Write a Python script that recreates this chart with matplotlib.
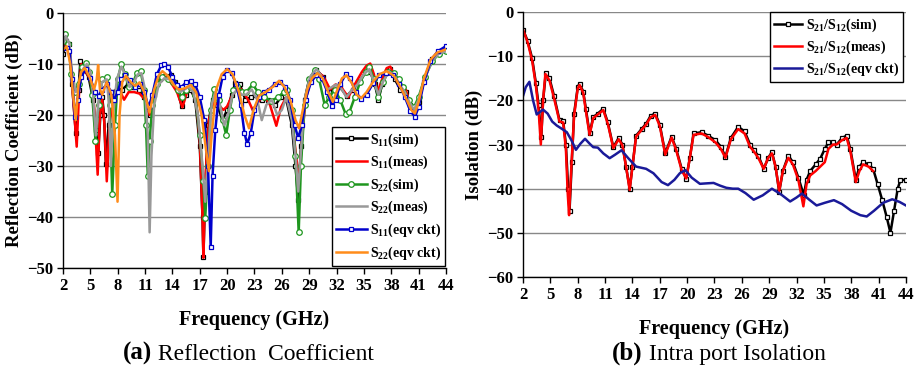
import matplotlib
matplotlib.use('Agg')
import matplotlib.pyplot as plt

plt.rcParams['font.family'] = 'Liberation Serif'
plt.rcParams['font.weight'] = 'bold'
plt.rcParams['mathtext.fontset'] = 'custom'
plt.rcParams['mathtext.bf'] = 'Liberation Serif:bold'
plt.rcParams['mathtext.rm'] = 'Liberation Serif:bold'
plt.rcParams['mathtext.default'] = 'bf'

# ---- (a) reflection coefficient data (GHz, dB) ----
s11_sim_f = [2.0, 2.3, 2.7, 3.0, 3.4, 3.7, 3.9, 4.3, 4.8, 5.3, 5.6, 5.85, 6.1, 6.3, 6.5, 6.7, 7.0, 7.4, 7.9, 8.5,
             9.1, 9.7, 10.3, 10.9, 11.5, 12.0, 12.6, 13.2, 13.8, 14.3, 15.0, 15.5, 16.0, 16.5, 17.0, 17.3, 17.4, 17.6,
             17.9, 18.4, 18.9, 19.5, 20.0, 20.5, 20.9, 21.4, 22.0, 22.6, 23.1, 23.8, 24.5, 25.3, 25.9, 26.5, 27.1,
             27.5, 27.8, 28.1, 28.5, 29.0, 29.8, 30.5, 31.2, 31.8, 32.4, 33.1, 33.8, 34.5, 35.2, 35.7, 36.2, 36.6,
             37.0, 37.5, 37.9, 38.4, 39.0, 39.6, 40.1, 40.5, 41.0, 41.7, 42.5, 43.2, 44.0]
s11_sim = [-8, -5.5, -6, -14, -23.5, -15, -9.5, -11, -12.5, -17, -23, -27.5, -20, -16.5, -20, -29.7, -22, -15.5, -15, -15,
           -14, -14.5, -15, -16.5, -20, -16, -13, -12.3, -12.2, -13.5, -18.2, -16, -15, -17, -26, -40, -47.9, -35,
           -22, -17, -18, -21, -19, -16, -13.7, -14, -17, -16.5, -16, -17, -17, -18, -16.5, -17, -22,
           -30, -36.6, -26, -17, -13, -11.1, -12.5, -15.5, -14.5, -14.5, -16.3, -15, -13.5, -11.5, -11.5, -14, -17,
           -14, -11.3, -11, -13, -15, -15.5, -18, -19.5, -17.5, -12.5, -9, -7.8, -7.3]

s11_meas_f = [2.0, 2.3, 2.7, 3.0, 3.5, 3.8, 4.0, 4.5, 5.0, 5.4, 5.8, 6.05, 6.3, 6.55, 6.8, 7.1, 7.5, 7.9, 8.3, 8.7,
              9.2, 9.8, 10.4, 11.0, 11.5, 12.1, 12.7, 13.3, 13.9, 14.5, 15.1, 15.6, 16.1, 16.6, 17.0, 17.3, 17.4,
              17.6, 18.0, 18.5, 19.0, 19.6, 20.0, 20.6, 21.3, 21.8, 22.3, 22.8, 23.4, 24.0, 24.7, 25.4, 25.9, 26.5,
              27.1, 27.5, 27.9, 28.2, 28.6, 29.2, 29.9, 30.6, 31.3, 31.9, 32.5, 33.3, 34.0, 34.8, 35.3, 35.7, 36.1,
              36.5, 37.0, 37.5, 37.9, 38.4, 39.0, 39.6, 40.1, 40.5, 41.0, 41.7, 42.5, 43.2, 44.0]
s11_meas = [-7, -5.5, -6.5, -14, -26.2, -14, -10, -11.5, -13, -18, -31.7, -20, -17, -22, -33, -22, -16.5, -16, -15.5, -17,
            -15.5, -15.5, -15.8, -17, -20, -15.5, -12.8, -12.5, -13.8, -15.5, -18.5, -15.5, -14.5, -17, -25, -40, -48,
            -33, -21, -17.5, -18, -19, -18.3, -16, -14.5, -15.5, -17, -19, -17.5, -16, -18, -22.1, -18.5, -16.5,
            -20, -27, -33, -25, -17, -13, -11.5, -12.5, -15, -14, -14.5, -16.5, -14, -11.5, -10.3, -9.9, -12,
            -15.5, -13, -10.8, -10.5, -12.5, -14.5, -15, -18, -19.5, -17.5, -12.5, -8.8, -7.5, -7]

s22_sim_f = [2.0, 2.25, 2.6, 2.9, 3.3, 3.7, 4.1, 4.5, 4.9, 5.2, 5.56, 5.9, 6.3, 6.85, 7.1, 7.4, 7.7, 8.0, 8.4, 8.8,
             9.2, 9.7, 10.1, 10.5, 10.9, 11.1, 11.3, 11.5, 11.8, 12.3, 12.9, 13.5, 14.1, 14.6, 15.0, 15.5, 16.0, 16.5,
             17.0, 17.4, 17.6, 17.9, 18.2, 18.6, 19.1, 19.5, 19.9, 20.3, 20.7, 21.1, 21.6, 22.1, 22.8, 23.4, 24.1,
             24.8, 25.6, 26.2, 26.6, 27.1, 27.5, 27.85, 28.1, 28.5, 29.0, 29.6, 30.1, 30.7, 31.2, 31.8, 32.4, 33.0,
             33.4, 34.0, 34.6, 35.2, 35.6, 36.1, 36.6, 37.1, 37.7, 38.3, 38.8, 39.3, 39.9, 40.5, 41.0, 41.7, 42.5,
             43.2, 44.0]
s22_sim = [-5.5, -4.2, -6, -12, -15.5, -14, -10.5, -9.8, -11.5, -16, -25, -18, -13, -12.5, -18, -35.5, -22, -13, -9.9, -12,
           -14.5, -13.5, -11.8, -11.3, -15, -22, -31.9, -25, -18, -14, -12.5, -13, -13.5, -15, -16.5, -15, -14.5, -16,
           -24, -33, -40.2, -30, -19, -14.9, -17, -21, -23.9, -19, -15, -14.3, -15.5, -15.5, -14, -15.5, -16.5,
           -17.2, -16.5, -15.5, -15, -19, -28, -43, -30, -18, -13, -11.2, -13, -18, -16.5, -15, -17, -19.8,
           -19.5, -16.5, -13.5, -11.5, -10.5, -13, -16.5, -13.5, -11.5, -11.8, -13, -14.5, -17, -18.5, -16.5, -12.5, -9.5,
           -8, -7.5]

s22_meas_f = [2.0, 2.3, 2.7, 3.0, 3.4, 3.8, 4.2, 4.6, 5.0, 5.3, 5.6, 5.9, 6.3, 6.8, 7.0, 7.25, 7.5, 7.9, 8.4, 8.8,
              9.3, 9.8, 10.2, 10.6, 11.0, 11.3, 11.5, 11.7, 12.0, 12.5, 13.1, 13.7, 14.3, 14.8, 15.3, 15.8, 16.3,
              16.8, 17.3, 17.6, 17.9, 18.3, 18.7, 19.2, 19.7, 20.1, 20.6, 21.1, 21.6, 22.1, 22.7, 23.3, 23.8, 24.3,
              24.9, 25.5, 26.0, 26.5, 27.1, 27.5, 27.8, 28.1, 28.5, 29.1, 29.8, 30.4, 31.0, 31.5, 32.0, 32.6, 33.1,
              33.7, 34.3, 35.0, 35.6, 36.1, 36.6, 37.1, 37.7, 38.3, 38.9, 39.5, 40.0, 40.5, 41.0, 41.7, 42.5, 43.2, 44.0]
s22_meas = [-6, -4.5, -6, -12, -15.5, -14, -11, -10, -11.5, -16, -24, -17, -13.5, -13, -17, -30, -20, -13, -10.5, -12,
            -14.5, -13.5, -12, -11.8, -15, -24, -43, -28, -18, -14, -12.8, -13, -14, -15.5, -15, -14.5, -15.5,
            -20, -30, -37, -28, -18, -15.5, -18, -22, -20, -16, -15, -16, -16, -15, -17, -21, -18,
            -17, -20, -19, -16.5, -21, -28, -35, -27, -17, -12.5, -11, -12.5, -15, -14.5, -14, -15, -16.5,
            -15, -14, -12, -11, -13.5, -16, -13.5, -11.5, -12, -14, -15.5, -17.5, -19, -17, -12.8, -9.3, -8, -7.5]

s11_eqv_f = [2.0, 2.4, 2.7, 3.0, 3.3, 3.6, 4.0, 4.5, 5.0, 5.5, 5.9, 6.3, 6.8, 7.3, 7.6, 8.0, 8.4, 8.8, 9.3, 9.9,
             10.4, 10.9, 11.4, 11.8, 12.3, 12.8, 13.1, 13.5, 14.0, 14.5, 15.0, 15.5, 16.0, 16.5, 17.0, 17.5, 17.9,
             18.2, 18.4, 18.7, 19.1, 19.5, 20.0, 20.5, 21.0, 21.5, 21.9, 22.2, 22.6, 23.0, 23.5, 24.0, 24.6, 25.2,
             25.8, 26.4, 26.9, 27.4, 27.8, 28.2, 28.6, 29.2, 29.8, 30.4, 31.0, 31.5, 31.9, 32.4, 33.0, 33.5, 34.1,
             34.7, 35.3, 36.0, 36.7, 37.4, 38.2, 38.9, 39.5, 40.1, 40.6, 41.0, 41.6, 42.3, 43.1, 44.0]
s11_eqv = [-6.8, -6.8, -7.5, -13, -20.4, -17, -12.5, -11, -12.8, -15.5, -16.3, -15, -14, -15.5, -17, -15.5, -13, -12.2, -13.2, -14.5,
           -14, -15.5, -18.5, -16, -12, -10.2, -9.9, -10.5, -12.5, -14.2, -14.5, -13.6, -13.3, -14, -16.5, -21, -30,
           -45.8, -32, -23, -16, -12.5, -11.1, -11.8, -14, -18, -23.5, -25.7, -23.5, -19, -16.5, -15.5, -15, -14,
           -13.6, -14.5, -17, -22, -24.5, -22, -17, -13.5, -12.2, -12.8, -15.5, -18.2, -17, -14, -12, -12.8, -15.5,
           -16.8, -16, -13.8, -12.2, -11.8, -12.2, -14, -16.5, -19.2, -20.3, -18.5, -13.5, -9.5, -7.5, -6.5]

s22_eqv_f = [2.0, 2.4, 2.8, 3.1, 3.4, 3.7, 4.0, 4.4, 4.9, 5.4, 5.7, 5.85, 6.05, 6.3, 6.8, 7.3, 7.7, 7.98, 8.2, 8.5,
             8.9, 9.4, 9.9, 10.4, 10.9, 11.5, 12.0, 12.5, 12.9, 13.5, 14.1, 14.7, 15.3, 16.0, 16.6, 17.2, 17.7, 18.0,
             18.3, 18.8, 19.4, 20.0, 20.6, 21.3, 21.9, 22.4, 22.9, 23.5, 24.2, 25.0, 25.7, 26.3, 27.0, 27.5, 27.9,
             28.3, 28.8, 29.3, 29.9, 30.5, 31.1, 31.6, 32.1, 32.6, 33.1, 33.7, 34.2, 34.7, 35.3, 36.0, 36.7, 37.5,
             38.3, 39.0, 39.7, 40.2, 40.6, 41.0, 41.6, 42.3, 43.0, 44.0]
s22_eqv = [-7.2, -6.5, -10, -16, -21, -14, -11.5, -10.8, -12.5, -15, -13, -10.2, -15, -16, -13.5, -16, -24, -37, -20, -13.5,
           -12.3, -13.5, -14.3, -13.6, -15.5, -19.5, -15, -12.2, -11.4, -12.3, -14, -15, -14.8, -14.1, -15.5, -20, -27, -31,
           -24, -15, -12, -11, -12, -15.5, -20, -22.6, -19, -16.2, -15.5, -14.5, -13.3, -14.5, -17.5, -21, -22.6,
           -19, -15, -12.8, -11.8, -12.8, -15.5, -17.4, -15, -12.8, -12.2, -13.8, -16, -16.7, -15.5, -13.5, -12, -11.4,
           -12.3, -14.5, -17, -19, -19.7, -17.5, -12.8, -9.2, -7.8, -7.1]

# ---- (b) intra port isolation data (GHz, dB) ----
s21_sim_f = [2.0, 2.5, 3.0, 3.4, 3.7, 4.0, 4.2, 4.5, 4.9, 5.4, 6.0, 6.4, 6.7, 6.95, 7.1, 7.35, 7.6, 8.0, 8.2, 8.6,
             8.9, 9.3, 9.7, 10.2, 10.8, 11.3, 11.9, 12.5, 12.9, 13.3, 13.7, 14.0, 14.4, 15.0, 15.5, 16.0, 16.5, 17.0,
             17.6, 18.3, 18.8, 19.4, 19.9, 20.3, 20.7, 21.6, 22.3, 23.1, 23.7, 24.2, 24.8, 25.6, 26.3, 26.9, 27.3,
             27.8, 28.4, 28.9, 29.3, 29.7, 30.1, 30.5, 31.1, 31.6, 32.2, 32.8, 33.1, 33.5, 34.1, 34.6, 35.1, 35.5,
             36.0, 36.4, 37.0, 37.5, 37.9, 38.5, 38.9, 39.3, 39.9, 40.4, 40.9, 41.4, 41.9, 42.3, 42.7, 43.1, 43.4, 44.0]
s21_sim = [-4, -6.5, -10.5, -16, -21, -28.3, -20, -13.8, -15, -19, -24.5, -24.6, -30, -40, -45, -34, -23, -17, -16.2, -18,
           -22, -27.5, -23.8, -23, -21.9, -25, -30.6, -28.5, -30, -35, -40, -35, -28, -26.5, -25.3, -23.5, -23, -25.5,
           -32, -28.2, -31, -35.5, -37.7, -33, -27.5, -27.2, -28, -29, -30.5, -32.8, -28.5, -26, -27, -30, -31.3,
           -32.5, -35.5, -33, -31.7, -35, -40.7, -36, -32.5, -34, -37.5, -41.5, -38, -36, -34.5, -33.2, -31, -29.5,
           -29.5, -30, -28.5, -28, -31, -38, -35, -34, -34.5, -35.5, -39, -42.6, -46.5, -50, -45, -40, -38, -38]

s21_meas_f = [2.0, 2.5, 3.0, 3.4, 3.7, 3.95, 4.2, 4.45, 4.9, 5.4, 6.0, 6.4, 6.7, 6.9, 7.05, 7.3, 7.6, 8.0, 8.2, 8.6,
              8.9, 9.3, 9.7, 10.2, 10.8, 11.3, 11.9, 12.5, 12.9, 13.3, 13.7, 14.0, 14.4, 15.0, 15.5, 16.0, 16.5, 17.0,
              17.6, 18.3, 18.8, 19.4, 19.9, 20.3, 20.7, 21.6, 22.3, 23.1, 23.7, 24.2, 24.8, 25.6, 26.3, 26.9, 27.3,
              27.8, 28.4, 28.9, 29.3, 29.7, 30.1, 30.5, 31.1, 31.6, 32.2, 32.75, 33.1, 33.5, 34.1, 34.6, 35.1, 35.5,
              36.0, 36.4, 37.0, 37.5, 37.9, 38.5, 38.9, 39.3, 39.9, 40.4]
s21_meas = [-4, -6.8, -11, -16.5, -22, -30, -20, -14, -15.5, -19.5, -24.8, -25, -31, -41, -46, -35, -23.5, -17.3, -16.5, -18.3,
            -22.5, -27.8, -24, -23.2, -22.2, -25.3, -30.8, -28.8, -30.2, -35, -40.3, -35, -28.2, -26.7, -25.5, -23.8, -23.3, -25.8,
            -32.3, -28.4, -31.3, -35.8, -37.7, -33, -27.8, -27.5, -28.3, -29.5, -31, -33, -28.8, -26.5, -27.5, -30.5, -31.5,
            -33, -35.5, -33, -32, -35, -40.5, -36, -33, -34.5, -38, -44, -39, -37, -36, -35, -34, -31,
            -30, -30, -29, -28.5, -31.5, -38.5, -36, -34.5, -35, -36]

s21_eqv_f = [2.0, 2.3, 2.7, 3.1, 3.5, 3.8, 4.2, 4.7, 5.2, 5.7, 6.3, 6.8, 7.3, 7.8, 8.3, 8.8, 9.3, 9.7, 10.2, 10.8,
             11.5, 12.1, 12.8, 13.5, 14.4, 15.5, 16.3, 17.2, 17.9, 18.6, 19.2, 19.8, 20.5, 21.4, 22.1, 22.9, 23.6,
             24.3, 25.0, 25.6, 26.4, 27.3, 28.3, 29.3, 30.3, 31.3, 32.0, 32.6, 33.4, 34.2, 35.1, 36.1, 37.0, 38.0,
             39.0, 39.7, 40.5, 41.5, 42.5, 43.3, 44.0]
s21_eqv = [-19, -17, -15.8, -20, -23.2, -22.7, -22.1, -23, -24.8, -25.7, -26.5, -27.2, -29, -31.2, -29.8, -28.7, -29.8, -30.6, -30.7, -32,
           -33.1, -32.3, -31.3, -33, -35, -35.5, -36.5, -38.5, -39.2, -38, -36.5, -35.8, -37.5, -38.9, -38.8, -38.7, -39.3,
           -39.8, -40, -40, -41, -42.5, -41.5, -40, -41.3, -42.9, -42, -41.1, -42.5, -43.8, -43.2, -42.6, -43.5, -45,
           -46, -46.3, -45, -43.2, -42.4, -43, -43.8]

xticks = list(range(2, 45, 3))


def style_axes(ax, ymin, ylabel):
    ax.set_xlim(2, 44)
    ax.set_ylim(ymin, 0)
    ax.set_xticks(xticks)
    ax.set_yticks(range(ymin, 1, 10))
    ax.grid(axis='y', color='#888888', linewidth=1.0)
    ax.set_axisbelow(True)
    for side in ['top', 'right']:
        ax.spines[side].set_visible(False)
    for side in ['left', 'bottom']:
        ax.spines[side].set_linewidth(1.0)
    ax.tick_params(direction='out', length=4, width=1, labelsize=12, pad=3)
    for lab in ax.get_xticklabels() + ax.get_yticklabels():
        lab.set_fontweight('bold')
    ax.set_xlabel('Frequency (GHz)', fontsize=14.5, fontweight='bold', labelpad=12)
    ax.set_ylabel(ylabel, fontsize=13.5, fontweight='bold', labelpad=3)


fig = plt.figure(figsize=(9.16, 3.70), dpi=100)
ax1 = fig.add_axes([0.0688, 0.2757, 0.418, 0.689])
ax2 = fig.add_axes([0.571, 0.2514, 0.418, 0.716])

lw = 1.8
ax1.plot(s11_sim_f, s11_sim, color='black', lw=lw, marker='s', ms=3.5, mfc='white', mew=0.9, label=r'S$_{11}$(sim)')
ax1.plot(s11_meas_f, s11_meas, color='#ff0000', lw=lw, label=r'S$_{11}$(meas)')
ax1.plot(s22_sim_f, s22_sim, color='#1e961e', lw=lw, marker='o', ms=4, mfc='white', mew=0.9, label=r'S$_{22}$(sim)')
ax1.plot(s22_meas_f, s22_meas, color='#999999', lw=lw, label=r'S$_{22}$(meas)')
ax1.plot(s11_eqv_f, s11_eqv, color='#0000cc', lw=lw, marker='s', ms=3, mfc='white', mew=0.9, label=r'S$_{11}$(eqv ckt)')
ax1.plot(s22_eqv_f, s22_eqv, color='#ff8c1a', lw=lw, label=r'S$_{22}$(eqv ckt)')
style_axes(ax1, -50, 'Reflection Coefficient (dB)')
leg1 = ax1.legend(loc='upper left', bbox_to_anchor=(0.702, 0.553), borderaxespad=0, fancybox=False,
                  edgecolor='black', framealpha=1, prop={'family': 'Liberation Serif', 'weight': 'bold', 'size': 10},
                  handlelength=2.2, handletextpad=0.25, labelspacing=0.38, borderpad=0.3)
leg1.get_frame().set_linewidth(1.0)

ax2.plot(s21_sim_f, s21_sim, color='black', lw=lw, marker='s', ms=3.5, mfc='white', mew=0.9,
         label=r'S$_{21}$/S$_{12}$(sim)')
ax2.plot(s21_meas_f, s21_meas, color='#ff0000', lw=lw, label=r'S$_{21}$/S$_{12}$(meas)')
ax2.plot(s21_eqv_f, s21_eqv, color='#1a1a99', lw=lw, label=r'S$_{21}$/S$_{12}$(eqv ckt)')
style_axes(ax2, -60, 'Isolation (dB)')
leg2 = ax2.legend(loc='upper right', bbox_to_anchor=(0.992, 1.0), borderaxespad=0, fancybox=False,
                  edgecolor='black', framealpha=1, prop={'family': 'Liberation Serif', 'weight': 'bold', 'size': 10},
                  handlelength=2.0, handletextpad=0.25, labelspacing=0.35, borderpad=0.3)
leg2.get_frame().set_linewidth(1.0)

# captions under each panel: bold letter, plain description
ta = fig.text(0.134, 0.028, '(a)', fontsize=18, fontweight='bold', va='baseline')
fig.canvas.draw()
ax1.annotate(' Reflection  Coefficient', xy=(1, 0), xycoords=ta, fontsize=17, fontweight='normal', va='bottom')
tb = fig.text(0.668, 0.028, '(b)', fontsize=18, fontweight='bold', va='baseline')
ax2.annotate(' Intra port Isolation', xy=(1, 0), xycoords=tb, fontsize=17, fontweight='normal', va='bottom')

plt.savefig('out.png', dpi=100)
